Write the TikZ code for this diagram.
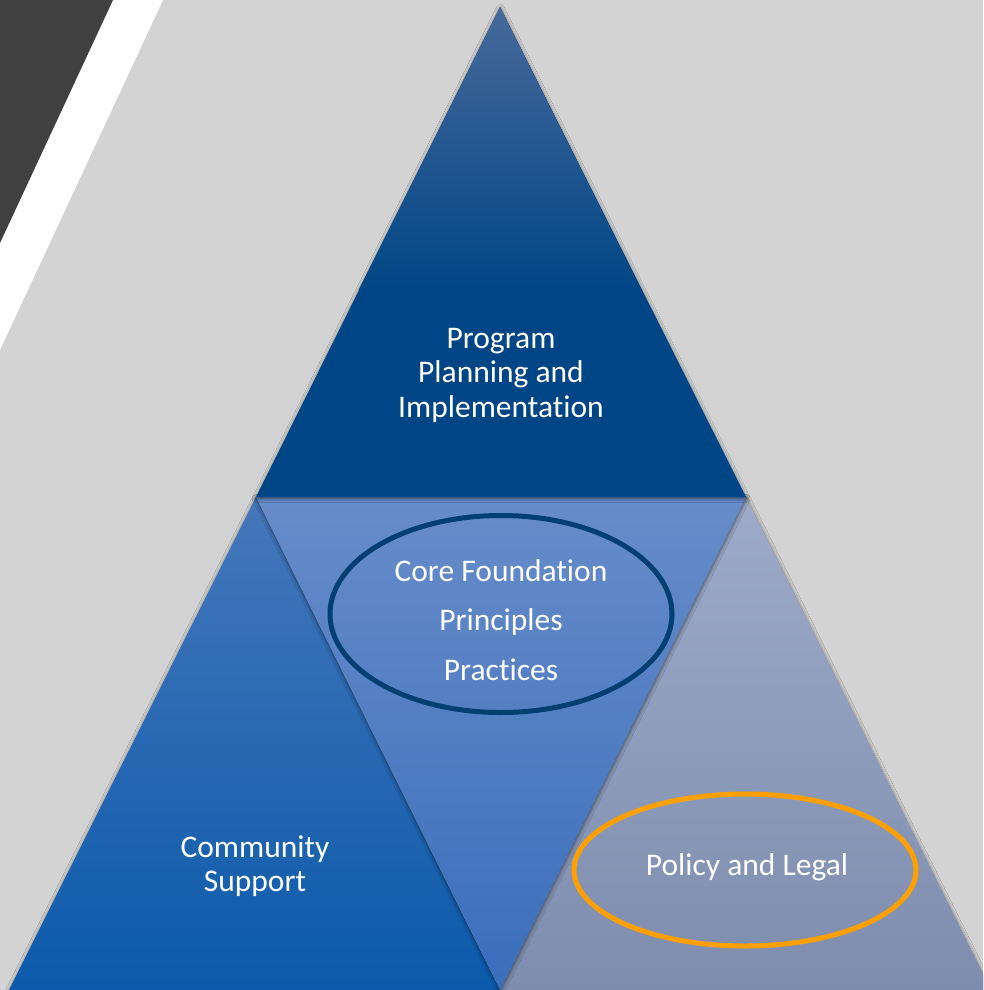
\documentclass[tikz,border=0pt]{standalone}
\usepackage{fontspec}
\setmainfont{Carlito}[Ligatures=NoCommon]
\usetikzlibrary{shapes.geometric,shadows.blur}

\definecolor{bggray}{HTML}{D3D3D3}
\definecolor{darkband}{HTML}{404040}
\definecolor{navyline}{HTML}{003F72}
\definecolor{orangeline}{HTML}{FFA000}
\definecolor{leftTop}{HTML}{4577BA}
\definecolor{leftMid}{HTML}{1A64B8}
\definecolor{leftBot}{HTML}{0B5AAB}
\definecolor{rightTop}{HTML}{9DABC8}
\definecolor{rightBot}{HTML}{7E8DAE}
\definecolor{midTop}{HTML}{678CC9}
\definecolor{midBot}{HTML}{3A6EBB}
\definecolor{peakTop}{HTML}{47699A}
\definecolor{peakBot}{HTML}{004686}

\tikzset{
  facet/.style={blur shadow={shadow xshift=0.3pt, shadow yshift=-1.5pt,
      shadow blur radius=4pt, shadow opacity=55}},
  label/.style={text=white, align=center, inner sep=0pt,
      font=\fontsize{31.5}{34.5}\selectfont},
  ring/.style={ellipse, draw, line width=5pt, inner sep=0pt}
}

\begin{document}
\begin{tikzpicture}[x=1pt, y=-1pt]
  % page background and corner bands
  \fill[bggray] (0,0) rectangle (983,990);
  \useasboundingbox (0,0) rectangle (983,990);
  \fill[white] (113,0) -- (163,0) -- (0,350) -- (0,243) -- cycle;
  \fill[darkband] (0,0) -- (113,0) -- (0,243) -- cycle;

  % corner points of the pyramid
  \coordinate (apex) at (500,7);
  \coordinate (ml) at (256,497);
  \coordinate (mr) at (746,497);
  \coordinate (bl) at (9,990);
  \coordinate (bm) at (500,990);
  \coordinate (br) at (991,990);
  % where the fade of the top facet ends
  \coordinate (fl) at (358.6,290);
  \coordinate (fr) at (641.4,290);

  \begin{scope}
    \clip (0,0) rectangle (983,990);
    % lower left facet
    \path[facet, top color=leftTop, middle color=leftMid, bottom color=leftBot]
      (ml) -- (bm) -- (bl) -- cycle;
    % lower right facet
    \path[facet, top color=rightTop, bottom color=rightBot]
      (mr) -- (br) -- (bm) -- cycle;
    % central inverted facet
    \path[facet, top color=midTop, bottom color=midBot]
      (ml) -- (mr) -- (bm) -- cycle;
    % top facet: solid navy with a lighter fade near the apex
    \path[facet, fill=peakBot] (apex) -- (mr) -- (ml) -- cycle;
    \shade[top color=peakTop, bottom color=peakBot] (apex) -- (fr) -- (fl) -- cycle;
  \end{scope}

  % texts and rings
  \node[label] (plan) at (501,375) {Program\\Planning and\\Implementation};
  \node[label] (comm) at (255,866) {Community\\Support};
  \node[ring, draw=navyline, minimum width=342pt, minimum height=197pt] (coreRing) at (501,614) {};
  \node[label] (core) at (501,620) {Core Foundation\\[15pt]Principles\\[15pt]Practices};
  \node[ring, draw=orangeline, minimum width=342pt, minimum height=152pt] (policyRing) at (745,870) {};
  \node[label] (policy) at (747,867) {Policy and Legal};
\end{tikzpicture}
\end{document}
